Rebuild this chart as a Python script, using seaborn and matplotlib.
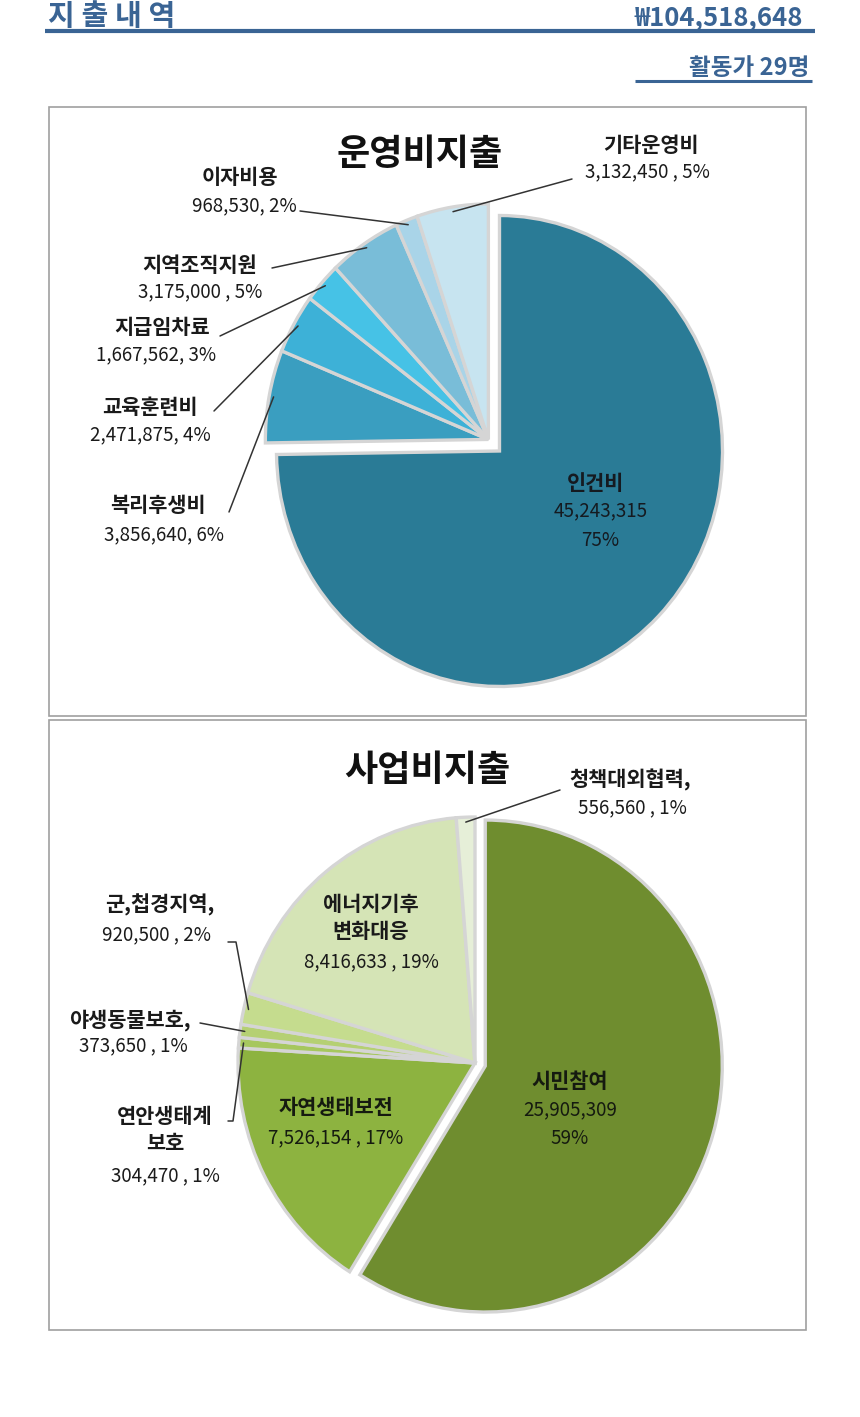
import numpy as np
import matplotlib
matplotlib.use("Agg")
import matplotlib.pyplot as plt
import seaborn as sns
from matplotlib.patches import Rectangle

# ---------------- data ----------------
ops_title = "운영비지출"
ops_names = ["인건비", "복리후생비", "교육훈련비", "지급임차료", "지역조직지원", "이자비용", "기타운영비"]
ops_values = [45243315, 3856640, 2471875, 1667562, 3175000, 968530, 3132450]
ops_pct = ["75%", "6%", "4%", "3%", "5%", "2%", "5%"]
ops_sep = ["", ", ", ", ", ", ", " , ", ", ", " , "]
ops_colors = ["#2A7B96", "#3A9EC0", "#3DB1D7", "#46C2E6", "#79BDD8", "#A9D4E8", "#C7E4F0"]

biz_title = "사업비지출"
biz_names = ["시민참여", "자연생태보전", "연안생태계\n보호", "야생동물보호,", "군,첩경지역,", "에너지기후\n변화대응", "청책대외협력,"]
biz_values = [25905309, 7526154, 304470, 373650, 920500, 8416633, 556560]
biz_pct = ["59%", "17%", "1%", "1%", "2%", "19%", "1%"]
biz_sep = ["", " , ", " , ", " , ", " , ", " , ", " , "]
biz_colors = ["#6F8D2F", "#8DB340", "#A6C75E", "#B5D073", "#C5DC8E", "#D5E4B6", "#E6EFD8"]

header_left = "지 출 내 역"
header_total = "₩104,518,648"
header_staff = "활동가 29명"

# ---------------- style ----------------
sns.set_theme(style="white")
plt.rcParams["font.family"] = ["Noto Sans CJK KR", "DejaVu Sans"]

W, H = 860, 1417
def Y(y):
    return H - y

fig = plt.figure(figsize=(8.6, 14.17), dpi=100)
ax = fig.add_axes([0, 0, 1, 1])
ax.set_xlim(0, W)
ax.set_ylim(0, H)
ax.axis("off")
ax.set_zorder(5)

hdr_color = "#3A6494"
ax.text(48, Y(25), header_left, fontsize=21, color=hdr_color, ha="left", va="baseline", fontweight="bold")
ax.text(803, Y(25), header_total, fontsize=18.5, color=hdr_color, ha="right", va="baseline", fontweight="bold")
ax.plot([45, 815], [Y(31), Y(31)], color=hdr_color, lw=3, solid_capstyle="butt")
ax.text(809, Y(75), header_staff, fontsize=17, color=hdr_color, ha="right", va="baseline", fontweight="bold")
ax.plot([635, 812], [Y(81), Y(81)], color=hdr_color, lw=2.2, solid_capstyle="butt")

# boxes
for (x0, y0, x1, y1) in [(49, 107, 806, 716), (49, 720, 806, 1330)]:
    ax.add_patch(Rectangle((x0, Y(y1)), x1 - x0, y1 - y0, fill=False, edgecolor="#A0A0A0", lw=1.2))

edge = dict(edgecolor="#D5D5D5", linewidth=2.4)
NAME_FS = 15
VAL_FS = 13.5
IN_NAME_FS = 15
IN_VAL_FS = 13.5
TITLE_FS = 26
M = 1.25


def pie_axes(cx, cy, rx, ry):
    """axes where a unit-radius pie spans rx by ry pixels around (cx, cy)"""
    left = (cx - M * rx) / W
    bottom = Y(cy + M * ry) / H
    return fig.add_axes([left, bottom, 2 * M * rx / W, 2 * M * ry / H])


def finish_pie_axes(a):
    a.set_aspect("auto")
    a.set_xlim(-M, M)
    a.set_ylim(-M, M)
    a.axis("off")
    a.set_zorder(1)


def to_main(a, x, y):
    d = a.transData.transform((x, y))
    return ax.transData.inverted().transform(d)


def edge_point(a, w, f=0.98):
    th = np.deg2rad((w.theta1 + w.theta2) / 2)
    return to_main(a, w.center[0] + f * w.r * np.cos(th), w.center[1] + f * w.r * np.sin(th))


# ----- top pie -----
ax1 = pie_axes(499.5, 451, 223, 235.5)
w_ops, _ = ax1.pie(ops_values, colors=ops_colors, startangle=90, counterclock=False,
                   wedgeprops=edge, frame=True)
finish_pie_axes(ax1)
# the small slices are pulled out together along the bisector of their group
g1, g2 = w_ops[-1].theta1, w_ops[1].theta2
gm = np.deg2rad((g1 + g2) / 2)
for w in w_ops[1:]:
    w.set_center((0.07 * np.cos(gm), 0.07 * np.sin(gm)))

ax.text(420, Y(155), ops_title, fontsize=TITLE_FS, fontweight="bold", ha="center", va="center", color="#111111")

ax.text(596, Y(483), ops_names[0], fontsize=IN_NAME_FS, fontweight="bold", ha="center", va="center", color="#151a20")
ax.text(601, Y(511), f"{ops_values[0]:,}", fontsize=IN_VAL_FS, ha="center", va="center", color="#151a20")
ax.text(600, Y(540), ops_pct[0], fontsize=IN_VAL_FS, ha="center", va="center", color="#151a20")

ops_label_pos = {
    6: ((651, 145), (647, 172), (572, 179)),
    5: ((240, 178), (244, 206), (300, 211)),
    4: ((200, 265), (200, 292), (272, 268)),
    3: ((162, 328), (156, 355), (220, 336)),
    2: ((150, 407), (150, 435), (214, 411)),
    1: ((158, 505), (164, 535), (229, 512)),
}
for i, (npos, vpos, lpos) in ops_label_pos.items():
    ax.text(npos[0], Y(npos[1]), ops_names[i], fontsize=NAME_FS, fontweight="bold", ha="center", va="center", color="#1a1a1a")
    ax.text(vpos[0], Y(vpos[1]), f"{ops_values[i]:,}{ops_sep[i]}{ops_pct[i]}", fontsize=VAL_FS, ha="center", va="center", color="#1a1a1a")
    ex, ey = edge_point(ax1, w_ops[i])
    ax.plot([lpos[0], ex], [Y(lpos[1]), ey], color="#333333", lw=1.1)

# ----- bottom pie -----
ax2 = pie_axes(475, 1063, 237, 246)
biz_explode = [0.045] + [0] * (len(biz_values) - 1)
w_biz, _ = ax2.pie(biz_values, colors=biz_colors, startangle=90, counterclock=False,
                   explode=biz_explode, wedgeprops=edge, frame=True)
finish_pie_axes(ax2)

ax.text(427, Y(770), biz_title, fontsize=TITLE_FS, fontweight="bold", ha="center", va="center", color="#111111")

ax.text(570, Y(1082), biz_names[0], fontsize=IN_NAME_FS, fontweight="bold", ha="center", va="center", color="#151a10")
ax.text(570, Y(1110), f"{biz_values[0]:,}", fontsize=IN_VAL_FS, ha="center", va="center", color="#151a10")
ax.text(570, Y(1139), biz_pct[0], fontsize=IN_VAL_FS, ha="center", va="center", color="#151a10")

ax.text(336, Y(1108), biz_names[1], fontsize=IN_NAME_FS, fontweight="bold", ha="center", va="center", color="#151a10")
ax.text(336, Y(1138), f"{biz_values[1]:,}{biz_sep[1]}{biz_pct[1]}", fontsize=IN_VAL_FS, ha="center", va="center", color="#151a10")

ax.text(371, Y(918), biz_names[5], fontsize=IN_NAME_FS, fontweight="bold", ha="center", va="center", color="#1a1a1a", linespacing=1.3)
ax.text(371, Y(962), f"{biz_values[5]:,}{biz_sep[5]}{biz_pct[5]}", fontsize=IN_VAL_FS, ha="center", va="center", color="#1a1a1a")

biz_label_pos = {
    6: ((630, 780), (632, 808), [(560, 790)]),
    4: ((160, 905), (157, 935), [(228, 942), (236, 942)]),
    3: ((130, 1020), (133, 1046), [(200, 1023)]),
    2: ((165, 1130), (165, 1176), [(228, 1121), (233, 1121)]),
}
for i, (npos, vpos, pts) in biz_label_pos.items():
    ax.text(npos[0], Y(npos[1]), biz_names[i], fontsize=NAME_FS, fontweight="bold", ha="center", va="center",
            color="#1a1a1a", linespacing=1.3)
    ax.text(vpos[0], Y(vpos[1]), f"{biz_values[i]:,}{biz_sep[i]}{biz_pct[i]}", fontsize=VAL_FS, ha="center", va="center", color="#1a1a1a")
    ex, ey = edge_point(ax2, w_biz[i])
    xs = [p[0] for p in pts] + [ex]
    ys = [Y(p[1]) for p in pts] + [ey]
    ax.plot(xs, ys, color="#333333", lw=1.1)

fig.savefig("out.png", dpi=100, facecolor="white")
